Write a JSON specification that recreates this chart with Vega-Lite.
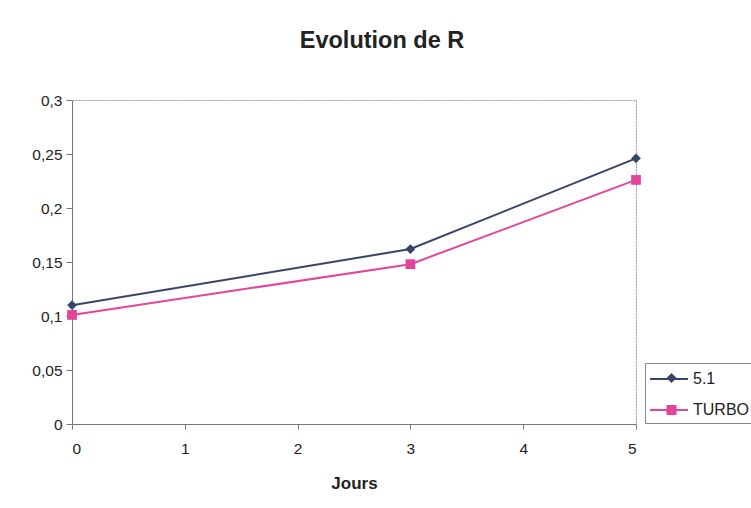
{
  "$schema": "https://vega.github.io/schema/vega-lite/v6.json",
  "autosize": "none",
  "width": 564,
  "height": 324,
  "padding": {"left": 72, "top": 100, "right": 115, "bottom": 84},
  "background": "white",
  "title": {"text": "Evolution de R", "font": "Liberation Sans", "fontSize": 23.5, "fontWeight": "bold", "color": "#222", "anchor": "middle", "dx": 28, "offset": 41},
  "data": {"values": [
    {"jour": 0, "r": 0.110, "serie": "5.1"},
    {"jour": 3, "r": 0.162, "serie": "5.1"},
    {"jour": 5, "r": 0.246, "serie": "5.1"},
    {"jour": 0, "r": 0.101, "serie": "TURBO"},
    {"jour": 3, "r": 0.148, "serie": "TURBO"},
    {"jour": 5, "r": 0.226, "serie": "TURBO"}
  ]},
  "encoding": {
    "x": {"field": "jour", "type": "quantitative", "title": "Jours",
      "scale": {"domain": [0, 5], "nice": false},
      "axis": {"values": [0, 1, 2, 3, 4, 5], "grid": false, "domainColor": "#777", "tickColor": "#777", "tickSize": 5,
        "labelFont": "Liberation Sans", "labelFontSize": 15.5, "labelColor": "#222", "labelPadding": 12,
        "titleFont": "Liberation Sans", "titleFontSize": 17, "titleFontWeight": "bold", "titleColor": "#222", "titlePadding": 19}},
    "y": {"field": "r", "type": "quantitative", "title": null,
      "scale": {"domain": [0, 0.3], "nice": false},
      "axis": {"values": [0, 0.05, 0.1, 0.15, 0.2, 0.25, 0.3], "grid": false, "domainColor": "#777", "tickColor": "#777", "tickSize": 6,
        "labelExpr": "replace(format(datum.value, '.2~f'), '.', ',')",
        "labelFont": "Liberation Sans", "labelFontSize": 15.5, "labelColor": "#222", "labelPadding": 4}}
  },
  "layer": [
    {"mark": {"type": "line", "strokeWidth": 2},
      "encoding": {
        "color": {"field": "serie", "type": "nominal", "title": null,
          "scale": {"domain": ["5.1", "TURBO"], "range": ["#38446a", "#e4449a"]},
          "legend": {"orient": "none", "legendX": 573, "legendY": 263, "padding": 5,
            "strokeColor": "#888", "fillColor": "white",
            "symbolType": "M-1.9,0H1.9", "symbolSize": 400, "symbolOffset": 8, "symbolStrokeWidth": 2,
            "labelOffset": 13, "rowPadding": 12}}
      }},
    {"mark": {"type": "point", "filled": true, "opacity": 1},
      "encoding": {
        "color": {"field": "serie", "type": "nominal", "title": null,
          "scale": {"domain": ["5.1", "TURBO"], "range": ["#38446a", "#e4449a"]},
          "legend": {"orient": "none", "legendX": 573, "legendY": 265, "padding": 5,
            "strokeColor": null, "fillColor": null,
            "symbolSize": 100, "symbolOffset": 13.5,
            "labelOpacity": 0, "labelOffset": 13, "rowPadding": 16}},
        "shape": {"field": "serie", "type": "nominal", "title": null,
          "scale": {"domain": ["5.1", "TURBO"], "range": ["diamond", "square"]}},
        "size": {"value": 95}
      }}
  ],
  "resolve": {"legend": {"color": "independent", "shape": "independent"}},
  "config": {
    "view": {"stroke": "#999", "strokeDash": [2, 1]},
    "legend": {
      "labelFont": "Liberation Sans", "labelFontSize": 16, "labelColor": "#222"
    }
  }
}
